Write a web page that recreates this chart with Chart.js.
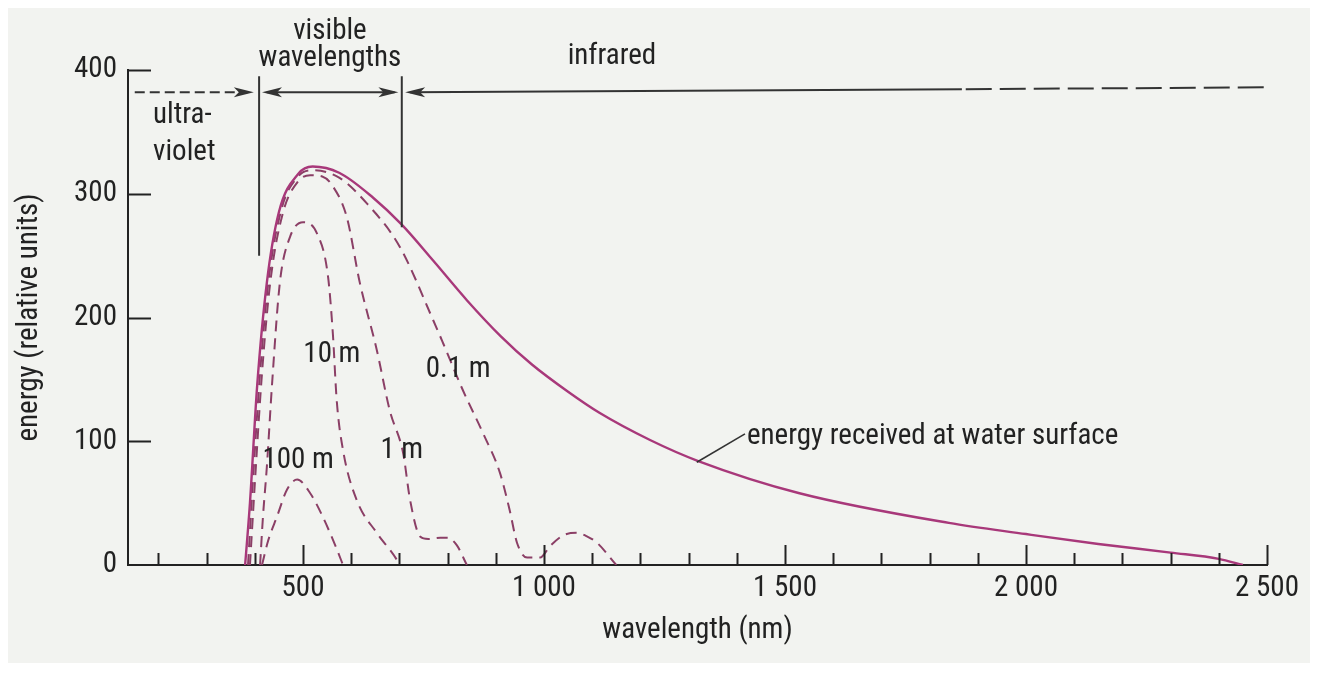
<!DOCTYPE html>
<html>
<head>
<meta charset="utf-8">
<title>Energy reaching depth in water</title>
<script src="https://cdn.jsdelivr.net/npm/chart.js@4.4.1/dist/chart.umd.min.js"></script>
<style>
  html, body { margin: 0; padding: 0; background: #fff; }
  #wrap { position: relative; width: 1319px; height: 675px; }
</style>
</head>
<body>
<div id="wrap"><canvas id="chart"></canvas></div>
<script>
// ===== DATA (wavelength in nm, energy in relative units) =====
const xTickValues = [200, 300, 400, 500, 600, 700, 800, 900, 1000, 1100, 1200, 1300, 1400, 1500,
  1600, 1700, 1800, 1900, 2000, 2100, 2200, 2300, 2400, 2500];
const yTickValues = [0, 100, 200, 300, 400];

const surfaceNm = [380, 390, 405, 425, 450, 490, 520, 575, 645, 705, 770, 840, 910, 975, 1050, 1115, 1220, 1320, 1530, 1840, 2000, 2150, 2300, 2400, 2450];
const surfaceEnergy = [0, 50, 145, 228, 285, 316, 322, 317, 297, 275, 246, 214, 185, 162, 140, 123, 101, 84, 58, 34, 25, 17, 10, 5, 0];

const depth01Nm = [386, 395, 410, 428, 455, 490, 520, 575, 633, 701, 770, 791, 832, 873, 909, 929, 944, 965, 992, 1012, 1040, 1068, 1090, 1110, 1150];
const depth01Energy = [0, 60, 150, 228, 287, 314, 319, 313, 292, 257, 198, 179, 141, 107, 74, 44, 18, 6, 6, 15, 24, 26, 23, 18, 0];

const depth1Nm = [390, 400, 415, 432, 458, 490, 515, 540, 562, 591, 618, 653, 680, 708, 722, 743, 760, 785, 800, 819, 840];
const depth1Energy = [0, 65, 155, 228, 284, 310, 315, 314, 306, 281, 228, 174, 125, 90, 53, 23, 21, 22, 22, 16, 0];

const depth10Nm = [411, 417, 425, 436, 452, 473, 500, 529, 552, 562, 570, 583, 611, 653, 695, 700];
const depth10Energy = [0, 39, 79, 147, 228, 265, 277, 268, 233, 187, 133, 93, 53, 26, 4, 0];

const depth100Nm = [415, 428, 446, 467, 488, 515, 541, 571, 583];
const depth100Energy = [0, 20, 39, 61, 69, 58, 39, 12, 0];

// ===== STYLE =====
const FONT = "'Liberation Sans Narrow', 'Roboto Condensed', 'Liberation Sans', sans-serif";
const INK = '#222222';
const SOLID = '#a8387a';
const DASHED = '#8b3f66';

function pts(xs, ys) {
  return xs.map((x, i) => ({ x, y: ys[i] }));
}

function curve(label, xs, ys, color, dashed) {
  return {
    label,
    data: pts(xs, ys),
    borderColor: color,
    borderWidth: dashed ? 2 : 2.4,
    borderDash: dashed ? [11, 7] : [],
    pointRadius: 0,
    fill: false,
    cubicInterpolationMode: 'monotone',
  };
}

function fmtThousands(v) {
  return String(v).replace(/\B(?=(\d{3})+(?!\d))/g, ' ');
}

// page background: scanned page look
const backgroundPlugin = {
  id: 'pageBg',
  beforeDraw(chart) {
    const { ctx, width, height } = chart;
    ctx.save();
    ctx.fillStyle = '#ffffff';
    ctx.fillRect(0, 0, width, height);
    ctx.fillStyle = '#f2f3f0';
    ctx.fillRect(8, 8, 1302, 655);
    ctx.restore();
  },
};

// tick marks pointing into the plot area
const innerTicksPlugin = {
  id: 'innerTicks',
  afterDraw(chart) {
    const { ctx, scales: { x, y } } = chart;
    const base = y.getPixelForValue(0);
    const left = x.getPixelForValue(x.min);
    ctx.save();
    ctx.strokeStyle = INK;
    ctx.lineWidth = 2;
    ctx.beginPath();
    x.ticks.forEach((t) => {
      const px = Math.round(x.getPixelForValue(t.value)) + 0.5;
      const len = t.value % 500 === 0 ? 20 : 12;
      ctx.moveTo(px, base);
      ctx.lineTo(px, base - len);
    });
    y.ticks.forEach((t) => {
      if (t.value === 0) return;
      const py = Math.round(y.getPixelForValue(t.value)) + 0.5;
      ctx.moveTo(left, py);
      ctx.lineTo(left + 23, py);
    });
    ctx.stroke();
    ctx.restore();
  },
};

function arrowHead(ctx, tipX, tipY, dir) {
  // dir: +1 points right, -1 points left
  ctx.beginPath();
  ctx.moveTo(tipX, tipY);
  ctx.lineTo(tipX - dir * 20, tipY - 5);
  ctx.lineTo(tipX - dir * 15, tipY);
  ctx.lineTo(tipX - dir * 20, tipY + 5);
  ctx.closePath();
  ctx.fill();
}

// spectrum bands, curve labels and call-out
const annotationPlugin = {
  id: 'notes',
  afterDraw(chart) {
    const { ctx, scales: { x, y } } = chart;
    const X = (v) => x.getPixelForValue(v);
    const Y = (v) => y.getPixelForValue(v);
    ctx.save();
    ctx.strokeStyle = '#333333';
    ctx.fillStyle = '#333333';
    ctx.lineWidth = 2;

    // band boundaries
    ctx.beginPath();
    ctx.moveTo(X(409), Y(395)); ctx.lineTo(X(409), Y(250));
    ctx.moveTo(X(705), Y(395)); ctx.lineTo(X(705), Y(273));
    ctx.stroke();

    // ultraviolet (dashed, pointing right)
    ctx.setLineDash([10, 5]);
    ctx.beginPath();
    ctx.moveTo(X(151), Y(382)); ctx.lineTo(X(385), Y(382));
    ctx.stroke();
    ctx.setLineDash([]);
    arrowHead(ctx, X(398), Y(382), 1);

    // visible (double arrow)
    ctx.beginPath();
    ctx.moveTo(X(425), Y(382)); ctx.lineTo(X(690), Y(382));
    ctx.stroke();
    arrowHead(ctx, X(415), Y(382), -1);
    arrowHead(ctx, X(698), Y(382), 1);

    // infrared (solid then dashed)
    ctx.beginPath();
    ctx.moveTo(X(722), Y(382)); ctx.lineTo(X(1867), Y(384.5));
    ctx.stroke();
    ctx.setLineDash([26, 8]);
    ctx.beginPath();
    ctx.moveTo(X(1875), Y(384.5)); ctx.lineTo(X(2496), Y(386));
    ctx.stroke();
    ctx.setLineDash([]);
    arrowHead(ctx, X(712), Y(382), -1);

    // call-out leader
    ctx.lineWidth = 1.6;
    ctx.beginPath();
    ctx.moveTo(X(1317), Y(83)); ctx.lineTo(X(1417), Y(106));
    ctx.stroke();

    ctx.fillStyle = INK;
    ctx.font = `29px ${FONT}`;
    ctx.textBaseline = 'middle';
    ctx.textAlign = 'center';
    ctx.fillText('visible', X(556), Y(431));
    ctx.fillText('wavelengths', X(556), Y(409));
    ctx.fillText('infrared', X(1141), Y(411));
    ctx.fillText('10 m', X(560), Y(170));
    ctx.fillText('0.1 m', X(822), Y(158));
    ctx.fillText('1 m', X(705), Y(92));
    ctx.fillText('100 m', X(490), Y(84));
    ctx.textAlign = 'left';
    ctx.fillText('ultra-', X(189), Y(363));
    ctx.fillText('violet', X(189), Y(333));
    ctx.fillText('energy received at water surface', X(1421), Y(104));
    ctx.restore();
  },
};

const ctx = document.getElementById('chart');

new Chart(ctx, {
  type: 'line',
  data: {
    datasets: [
      curve('energy received at water surface', surfaceNm, surfaceEnergy, SOLID, false),
      curve('0.1 m', depth01Nm, depth01Energy, DASHED, true),
      curve('1 m', depth1Nm, depth1Energy, DASHED, true),
      curve('10 m', depth10Nm, depth10Energy, DASHED, true),
      curve('100 m', depth100Nm, depth100Energy, DASHED, true),
    ],
  },
  options: {
    responsive: true,
    maintainAspectRatio: false,
    animation: false,
    layout: { padding: { top: 70, right: 52, left: 0, bottom: 0 } },
    plugins: {
      legend: { display: false },
      tooltip: { enabled: false },
    },
    scales: {
      x: {
        type: 'linear',
        min: 137,
        max: 2500,
        afterBuildTicks: (scale) => { scale.ticks = xTickValues.map((v) => ({ value: v })); },
        afterFit: (scale) => { scale.height = 110; },
        grid: { display: false, drawTicks: false },
        border: { display: true, color: INK, width: 2 },
        ticks: {
          autoSkip: false,
          maxRotation: 0,
          padding: 6,
          color: INK,
          font: { family: FONT, size: 29 },
          callback: (v) => (v % 500 === 0 ? fmtThousands(v) : ''),
        },
        title: {
          display: true,
          text: 'wavelength (nm)',
          color: INK,
          font: { family: FONT, size: 29 },
          padding: { top: 4, bottom: 27 },
        },
      },
      y: {
        min: 0,
        max: 400,
        afterBuildTicks: (scale) => { scale.ticks = yTickValues.map((v) => ({ value: v })); },
        afterFit: (scale) => { scale.width = 128; },
        grid: { display: false, drawTicks: false },
        border: { display: true, color: INK, width: 2 },
        ticks: {
          padding: 11,
          color: INK,
          font: { family: FONT, size: 29 },
        },
        title: {
          display: true,
          text: 'energy (relative units)',
          color: INK,
          font: { family: FONT, size: 29 },
          padding: { top: 12 },
        },
      },
    },
  },
  plugins: [backgroundPlugin, innerTicksPlugin, annotationPlugin],
});
</script>
</body>
</html>
